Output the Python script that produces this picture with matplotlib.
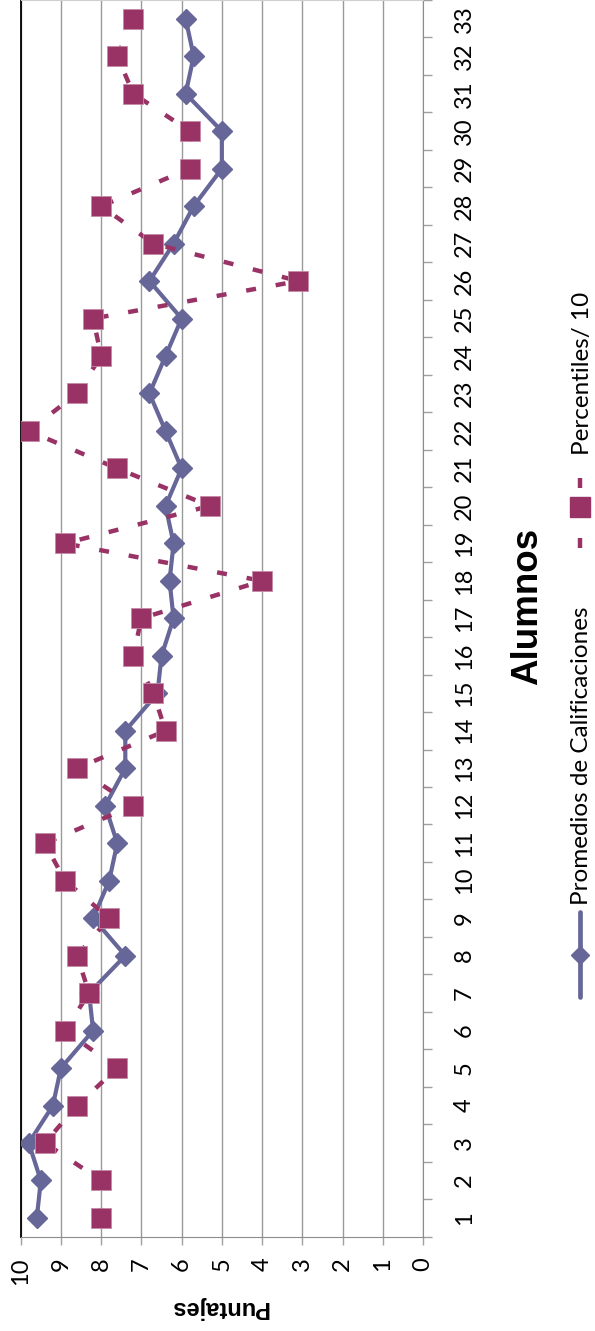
import matplotlib
matplotlib.use('Agg')
import matplotlib.pyplot as plt
from matplotlib.lines import Line2D
import numpy as np

# Data (scores per student)
alumnos = list(range(1, 34))
promedios = [9.6, 9.5, 9.8, 9.2, 9.0, 8.2, 8.3, 7.4, 8.2, 7.8, 7.6, 7.9, 7.4, 7.4, 6.6, 6.5, 6.2,
             6.3, 6.2, 6.4, 6.0, 6.4, 6.8, 6.4, 6.0, 6.8, 6.2, 5.7, 5.0, 5.0, 5.9, 5.7, 5.9]
percentiles = [8.0, 8.0, 9.4, 8.6, 7.6, 8.9, 8.3, 8.6, 7.8, 8.9, 9.4, 7.2, 8.6, 6.4, 6.7, 7.2, 7.0,
               4.0, 8.9, 5.3, 7.6, 9.8, 8.6, 8.0, 8.2, 3.1, 6.7, 8.0, 5.8, 5.8, 7.2, 7.6, 7.2]
puntajes_ticks = list(range(0, 11))

COL_PROM = '#666699'
COL_PERC = '#993366'
W, H = 595, 1331


def fx(px):
    return px / W


def fy(py):
    return 1 - py / H


fig = plt.figure(figsize=(W / 100, H / 100), dpi=100)
left, right, bottom = 20.7, 423.0, 1236.7
ax = fig.add_axes([fx(left), fy(bottom), (right - left) / W, bottom / H])

# Chart is drawn rotated: students go up, scores go right-to-left
ax.plot(promedios, alumnos, color=COL_PROM, lw=3.0, marker='D', ms=10,
        mfc=COL_PROM, mec=COL_PROM, zorder=3)
ax.plot(percentiles, alumnos, color=COL_PERC, lw=3.2, ls=(0, (2.25, 4.5)), dash_capstyle='butt',
        marker='s', ms=14.5, mfc=COL_PERC, mec='#c58aa6', mew=0.6, zorder=4)

ax.set_xlim(10, 0)
ax.set_ylim(0.5, 33.5)

ax.set_xticks(puntajes_ticks)
ax.set_xticklabels([str(t) for t in puntajes_ticks], rotation=90, va='top', ha='center',
                   family='Lato', fontsize=17)
ax.tick_params(axis='x', which='major', length=5.8, width=1, color='#a0a0a0', pad=9)
ax.xaxis.grid(True, color='#999999', lw=1)
ax.set_axisbelow(True)

# student axis on the right, ticks between categories
ax.yaxis.tick_right()
ax.set_yticks(np.arange(0.5, 34, 1))
ax.set_yticklabels([])
ax.set_yticks(alumnos, labels=[str(a) for a in alumnos], minor=True)
ax.tick_params(axis='y', which='major', length=6.5, width=1, color='#a0a0a0',
               right=True, left=False)
ax.tick_params(axis='y', which='minor', length=0, pad=22, right=True, left=False,
               labelright=True, labelleft=False)
for lbl in ax.get_yticklabels(minor=True):
    lbl.set_rotation(90)
    lbl.set_va('center')
    lbl.set_ha('left')
    lbl.set_family('Lato')
    lbl.set_fontsize(17)

ax.spines['left'].set_color('black')
ax.spines['left'].set_linewidth(1.3)
ax.spines['right'].set_color('#8c8c8c')
ax.spines['bottom'].set_color('#8c8c8c')
ax.spines['top'].set_color('#d0d0d0')

# Axis titles
fig.text(fx(219), fy(1308), 'Puntajes', rotation=180, ha='center', va='center',
         family='Liberation Sans', fontweight='bold', fontsize=17)
fig.text(fx(528), fy(606), 'Alumnos', rotation=90, ha='center', va='center',
         family='Liberation Sans', fontweight='bold', fontsize=26.5)

# Legend (rotated, drawn by hand)
fig.add_artist(Line2D([fx(580), fx(580)], [fy(997), fy(912)], color=COL_PROM, lw=3.4,
                      solid_capstyle='round', transform=fig.transFigure))
fig.add_artist(Line2D([fx(580)], [fy(955)], marker='D', ms=9.5, color=COL_PROM,
                      transform=fig.transFigure))
fig.text(fx(582), fy(905), 'Promedios de Calificaciones', rotation=90, ha='center', va='bottom',
         family='Lato', fontsize=17.5)

fig.add_artist(Line2D([fx(580), fx(580)], [fy(548), fy(478)], color=COL_PERC, lw=3.2,
                      ls=(0, (2.25, 4.5)), dash_capstyle='butt', transform=fig.transFigure))
fig.add_artist(Line2D([fx(580)], [fy(507)], marker='s', ms=14, color=COL_PERC,
                      transform=fig.transFigure))
fig.text(fx(582), fy(455), 'Percentiles/ 10', rotation=90, ha='center', va='bottom',
         family='Lato', fontsize=17.5)

fig.savefig('out.png', dpi=100)
